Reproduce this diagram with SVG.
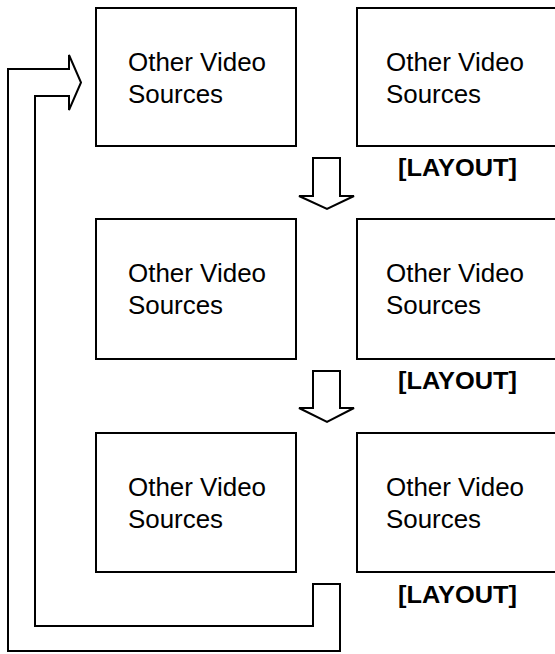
<svg xmlns="http://www.w3.org/2000/svg" width="555" height="654" viewBox="0 0 555 654">
<style>
.box{fill:#fff;stroke:#000;stroke-width:2}
.arr{fill:#fff;stroke:#000;stroke-width:2;stroke-linejoin:miter}
.t{font-family:"Liberation Sans",Arial,sans-serif;font-size:25px;fill:#000}
.l{font-family:"Liberation Sans",Arial,sans-serif;font-size:24.5px;font-weight:bold;fill:#000}
</style>
<rect width="555" height="654" fill="#fff"/>
<g id="connectors">
<path class="arr" d="M313,584 L313,626 L35,626 L35,96 L69,96 L69,110 L81,82.5 L69,55 L69,69 L8,69 L8,651 L340,651 L340,584 Z"/>
<path class="arr" d="M313,158 L340,158 L340,196 L354,196 L327,209 L299,196 L313,196 Z"/>
<path class="arr" d="M313,371 L340,371 L340,408 L354,408 L327,422 L299,408 L313,408 Z"/>
</g>
<g id="n1"><rect class="box" x="96" y="8" width="200" height="138"/><text class="t" x="128" y="71" textLength="138" lengthAdjust="spacingAndGlyphs">Other Video</text><text class="t" x="128" y="103" textLength="95" lengthAdjust="spacingAndGlyphs">Sources</text></g>
<g id="n2"><rect class="box" x="357" y="8" width="200" height="138"/><text class="t" x="386" y="71" textLength="138" lengthAdjust="spacingAndGlyphs">Other Video</text><text class="t" x="386" y="103" textLength="95" lengthAdjust="spacingAndGlyphs">Sources</text></g>
<g id="l1"><text class="l" x="398" y="176" textLength="119" lengthAdjust="spacingAndGlyphs">[LAYOUT]</text></g>
<g id="n3"><rect class="box" x="96" y="219" width="200" height="140"/><text class="t" x="128" y="282" textLength="138" lengthAdjust="spacingAndGlyphs">Other Video</text><text class="t" x="128" y="314" textLength="95" lengthAdjust="spacingAndGlyphs">Sources</text></g>
<g id="n4"><rect class="box" x="357" y="219" width="200" height="140"/><text class="t" x="386" y="282" textLength="138" lengthAdjust="spacingAndGlyphs">Other Video</text><text class="t" x="386" y="314" textLength="95" lengthAdjust="spacingAndGlyphs">Sources</text></g>
<g id="l2"><text class="l" x="398" y="389" textLength="119" lengthAdjust="spacingAndGlyphs">[LAYOUT]</text></g>
<g id="n5"><rect class="box" x="96" y="433" width="200" height="139"/><text class="t" x="128" y="496" textLength="138" lengthAdjust="spacingAndGlyphs">Other Video</text><text class="t" x="128" y="528" textLength="95" lengthAdjust="spacingAndGlyphs">Sources</text></g>
<g id="n6"><rect class="box" x="357" y="433" width="200" height="139"/><text class="t" x="386" y="496" textLength="138" lengthAdjust="spacingAndGlyphs">Other Video</text><text class="t" x="386" y="528" textLength="95" lengthAdjust="spacingAndGlyphs">Sources</text></g>
<g id="l3"><text class="l" x="398" y="603" textLength="119" lengthAdjust="spacingAndGlyphs">[LAYOUT]</text></g>
</svg>
